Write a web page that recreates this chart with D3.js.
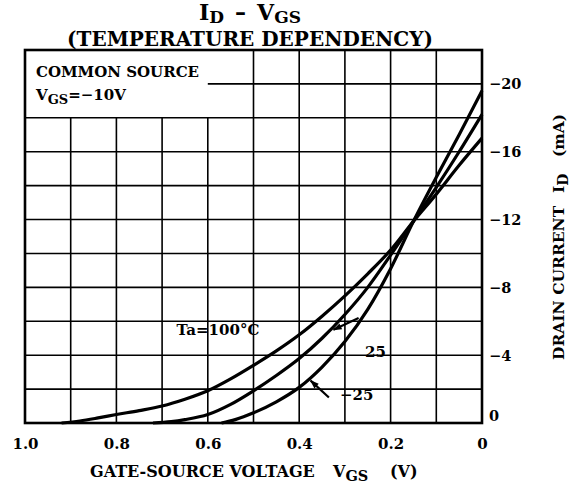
<!DOCTYPE html>
<html lang="en">
<head>
<meta charset="UTF-8">
<title>ID - VGS (Temperature dependency)</title>
<script src="https://d3js.org/d3.v7.min.js"></script>
<style>
  body, html { margin: 0; padding: 0; background: #fff; }
  svg { display: block; }
  text { font-family: "DejaVu Serif", serif; font-weight: bold; fill: #000; }
</style>
</head>
<body>
<div id="chart"></div>
<script>
// Data (VGS in V, |ID| in mA)
const vgsTa100 = [0.92, 0.88, 0.84, 0.8, 0.75, 0.7, 0.65, 0.6, 0.55, 0.5, 0.45, 0.4, 0.35, 0.3, 0.25, 0.2, 0.15, 0.1, 0.05, 0];
const idTa100  = [0, 0.12, 0.3, 0.5, 0.73, 1.0, 1.4, 1.9, 2.6, 3.4, 4.25, 5.2, 6.3, 7.5, 8.8, 10.2, 11.9, 13.5, 15.2, 16.8];
const vgsTa25  = [0.72, 0.68, 0.65, 0.6, 0.55, 0.5, 0.45, 0.4, 0.35, 0.3, 0.25, 0.2, 0.15, 0.1, 0.05, 0];
const idTa25   = [0, 0.08, 0.2, 0.5, 1.1, 1.9, 2.8, 3.8, 5.0, 6.4, 8.0, 9.9, 11.9, 13.9, 16.0, 18.2];
const vgsTaM25 = [0.57, 0.54, 0.5, 0.45, 0.4, 0.35, 0.3, 0.25, 0.2, 0.15, 0.1, 0.05, 0];
const idTaM25  = [0, 0.2, 0.6, 1.25, 2.1, 3.3, 4.8, 6.7, 9.1, 11.9, 14.5, 17.0, 19.6];

const xTicks = [1.0, 0.8, 0.6, 0.4, 0.2, 0];
const yTicks = [0, 4, 8, 12, 16, 20];
const xGrid = [0.9, 0.8, 0.7, 0.6, 0.5, 0.4, 0.3, 0.2, 0.1];
const yGrid = [2, 4, 6, 8, 10, 12, 14, 16, 18, 20];

const W = 574, H = 485;
const m = { left: 25, right: 482, top: 50, bottom: 423 };

const x = d3.scaleLinear().domain([1, 0]).range([m.left, m.right]);
const y = d3.scaleLinear().domain([0, 22]).range([m.bottom, m.top]);

const svg = d3.select("#chart").append("svg")
  .attr("width", W).attr("height", H);

// grid (the note box covers the top-left corner: VGS 1.0..0.6, ID 18..22)
const grid = svg.append("g").attr("stroke", "#000").attr("stroke-width", 1.6);
grid.selectAll("line.v").data(xGrid).join("line")
  .attr("class", "v")
  .attr("x1", d => x(d)).attr("x2", d => x(d))
  .attr("y1", d => d >= 0.6 ? y(18) : y(22)).attr("y2", y(0));
grid.selectAll("line.h").data(yGrid).join("line")
  .attr("class", "h")
  .attr("y1", d => y(d)).attr("y2", d => y(d))
  .attr("x1", d => d > 18 ? x(0.6) : x(1)).attr("x2", x(0));

// frame
svg.append("rect")
  .attr("x", m.left).attr("y", m.top)
  .attr("width", m.right - m.left).attr("height", m.bottom - m.top)
  .attr("fill", "none").attr("stroke", "#000").attr("stroke-width", 2.6);

// curves
const line = d3.line()
  .x(d => x(d[0])).y(d => y(d[1]))
  .curve(d3.curveMonotoneX);
const series = [
  d3.zip(vgsTa100, idTa100),
  d3.zip(vgsTa25, idTa25),
  d3.zip(vgsTaM25, idTaM25)
];
svg.append("g").selectAll("path").data(series).join("path")
  .attr("d", line)
  .attr("fill", "none").attr("stroke", "#000")
  .attr("stroke-width", 3.2).attr("stroke-linejoin", "round");

// right axis labels
const yAxis = svg.append("g")
  .attr("transform", `translate(${m.right + 4},0)`)
  .call(d3.axisRight(y).tickValues(yTicks).tickSize(0)
    .tickFormat(d => d === 0 ? "0" : "\u2212" + d));
yAxis.select(".domain").remove();
yAxis.selectAll("text")
  .attr("font-family", "DejaVu Serif").attr("font-weight", "bold")
  .attr("font-size", 14.5).attr("x", 3)
  .attr("dy", d => d === 0 ? "-0.15em" : "0.35em");

// bottom axis labels
const xAxis = svg.append("g")
  .attr("transform", `translate(0,${m.bottom})`)
  .call(d3.axisBottom(x).tickValues(xTicks).tickSize(0)
    .tickFormat(d => d === 0 ? "0" : d3.format(".1f")(d)));
xAxis.select(".domain").remove();
xAxis.selectAll("text")
  .attr("font-family", "DejaVu Serif").attr("font-weight", "bold")
  .attr("font-size", 15).attr("y", 15);

// title
const t1 = svg.append("text").attr("x", 250).attr("y", 20)
  .attr("text-anchor", "middle").attr("font-size", 22);
t1.append("tspan").text("I");
t1.append("tspan").attr("dy", 2.5).attr("font-size", 17).text("D");
t1.append("tspan").attr("dy", -2.5).text("\u2002\u2013\u2002V");
t1.append("tspan").attr("dy", 2.5).attr("font-size", 17).text("GS");
svg.append("text").attr("x", 250).attr("y", 46)
  .attr("text-anchor", "middle").attr("font-size", 20)
  .text("(TEMPERATURE DEPENDENCY)");

// note box
svg.append("text").attr("x", 36).attr("y", 77).attr("font-size", 15)
  .text("COMMON SOURCE");
const nb = svg.append("text").attr("x", 36).attr("y", 100).attr("font-size", 15);
nb.append("tspan").text("V");
nb.append("tspan").attr("dy", 4).attr("font-size", 13).text("GS");
nb.append("tspan").attr("dy", -4).text("=\u221210V");

// curve labels
svg.append("text").attr("x", 218).attr("y", 335).attr("text-anchor", "middle")
  .attr("font-size", 15).text("Ta=100\u00b0C");
svg.append("text").attr("x", 365).attr("y", 357).attr("font-size", 15).text("25");
svg.append("text").attr("x", 340).attr("y", 400).attr("font-size", 15).text("\u221225");

// leader arrows
const defs = svg.append("defs");
defs.append("marker").attr("id", "ah")
  .attr("viewBox", "0 0 10 10").attr("refX", 9).attr("refY", 5)
  .attr("markerWidth", 11).attr("markerHeight", 9)
  .attr("markerUnits", "userSpaceOnUse").attr("orient", "auto")
  .append("path").attr("d", "M0,1.5 L10,5 L0,8.5 Z").attr("fill", "#000");
const arrows = [[[0.27, 6.2], [0.325, 5.5]], [[0.335, 1.5], [0.375, 2.5]]];
svg.append("g").selectAll("line").data(arrows).join("line")
  .attr("x1", d => x(d[0][0])).attr("y1", d => y(d[0][1]))
  .attr("x2", d => x(d[1][0])).attr("y2", d => y(d[1][1]))
  .attr("stroke", "#000").attr("stroke-width", 2.2)
  .attr("marker-end", "url(#ah)");

// axis titles
const xt = svg.append("text").attr("y", 477).attr("font-size", 16);
xt.append("tspan").attr("x", 90).text("GATE-SOURCE VOLTAGE");
xt.append("tspan").attr("x", 333).text("V");
xt.append("tspan").attr("dy", 4).attr("font-size", 14.5).text("GS");
xt.append("tspan").attr("x", 390).attr("dy", -4).text("(V)");

const yt = svg.append("text")
  .attr("transform", "translate(564,0) rotate(-90)")
  .attr("font-size", 15.5);
yt.append("tspan").attr("x", -360).text("DRAIN CURRENT");
yt.append("tspan").attr("x", -193).text("I");
yt.append("tspan").attr("dy", 4).attr("font-size", 14).text("D");
yt.append("tspan").attr("x", -157).attr("dy", -4).text("(mA)");
</script>
</body>
</html>
